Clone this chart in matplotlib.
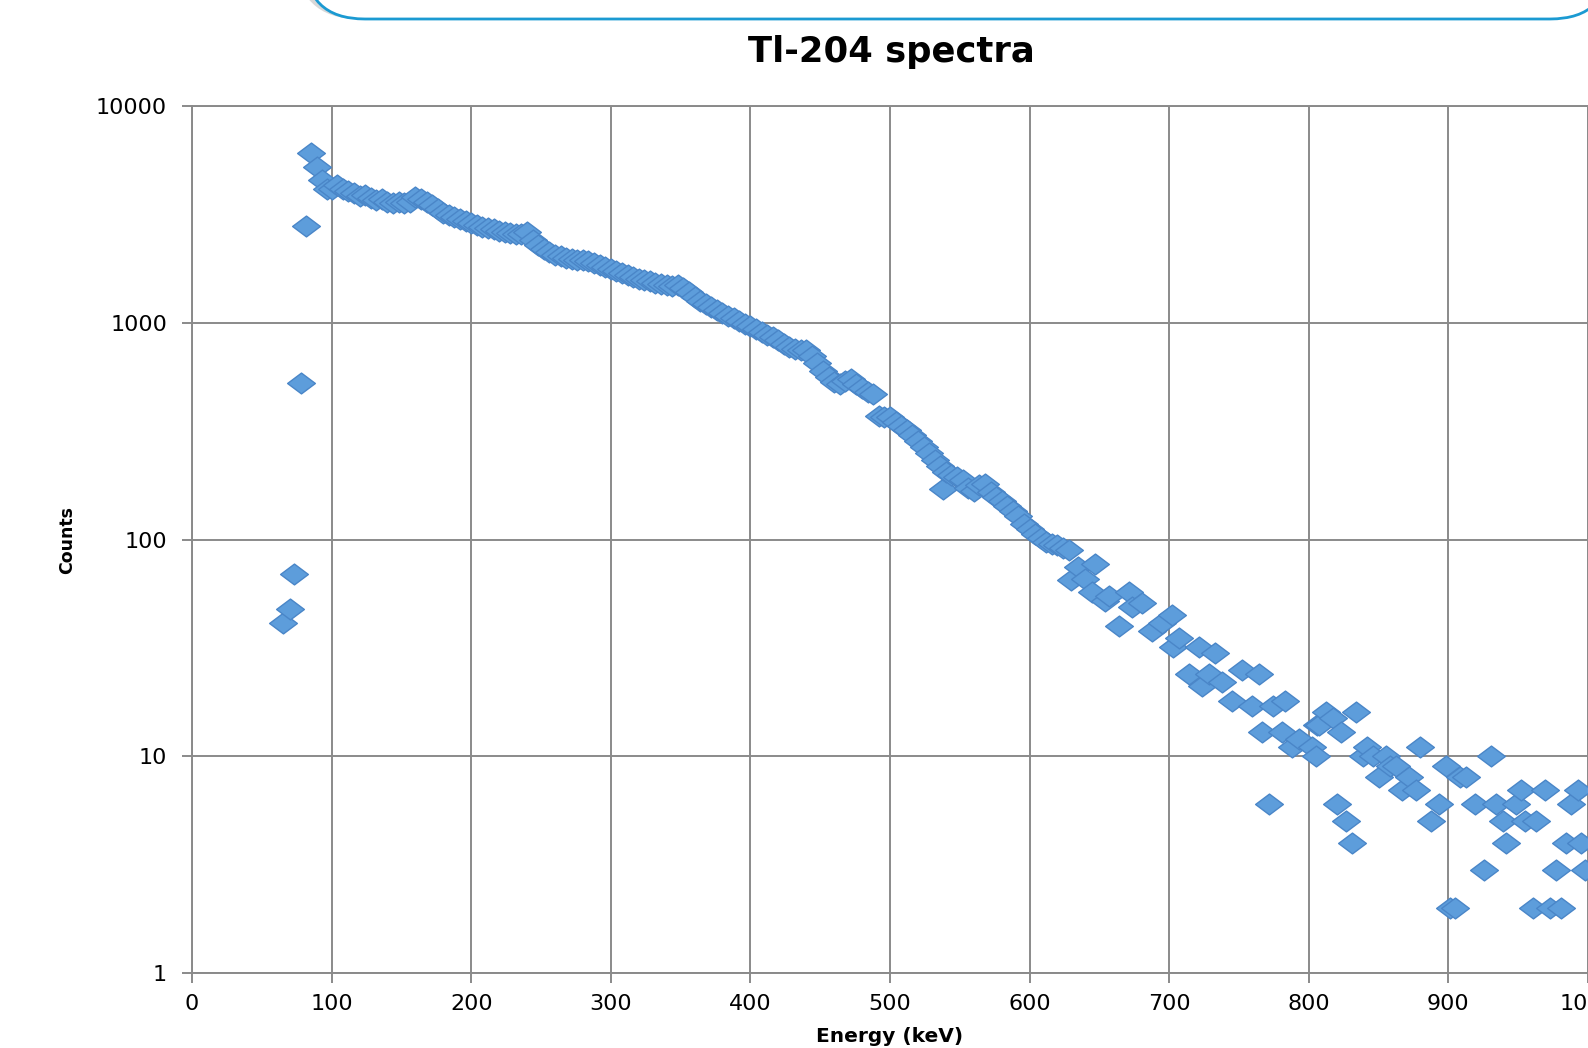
import matplotlib
matplotlib.use("Agg")
import matplotlib.pyplot as plt
from matplotlib.path import Path
from matplotlib.patches import FancyBboxPatch
from matplotlib.transforms import IdentityTransform
from matplotlib.ticker import FixedLocator, FixedFormatter, NullLocator

title = "Tl-204 spectra"
x_label = "Energy (keV)"
y_label = "Counts"
x_ticks = [0, 100, 200, 300, 400, 500, 600, 700, 800, 900, 1000]
y_ticks = [1, 10, 100, 1000, 10000]
y_tick_labels = ["1", "10", "100", "1000", "10000"]

energy = [
    65.5, 70, 73, 78, 82, 85.5, 89.5, 93, 96.5,
    100, 104, 108, 112, 116, 120, 124, 128, 132, 136, 140, 144, 148, 152, 156,
    160, 164, 168, 172, 176, 180, 184, 188, 192, 196, 200, 204, 208, 212, 216,
    220, 224, 228, 232, 236, 240, 244, 248, 252, 256, 260, 264, 268, 272, 276,
    280, 284, 288, 292, 296, 300, 304, 308, 312, 316, 320, 324, 328, 332, 336,
    340, 344, 348, 352, 356, 360, 364, 368, 372, 376, 380, 384, 388, 392, 396,
    400, 404, 408, 412, 416, 420, 424, 428, 432, 436, 440, 444, 448, 452, 456,
    460, 464, 468, 472, 476, 480, 484, 488, 492, 496, 500, 504, 508, 512, 516,
    520, 524, 528, 532, 536, 538, 540, 544, 548, 552, 556, 560, 564, 568, 572,
    576, 580, 584, 588, 592, 596, 600, 604, 608, 612, 616,
    619.5, 624, 628, 630, 635, 640, 644.6, 647, 654, 656.6, 663.7, 671, 673,
    680.5, 687.7, 695, 702, 703, 707, 714, 721, 723.6, 728.4, 733, 738, 745,
    752, 759.5, 764, 766.7, 771.5, 774, 781, 783, 788, 793, 802.6, 805, 806,
    807.5, 812, 817, 820.3, 823, 826.4, 831.2, 833.6, 838.6, 842, 846, 850.5,
    855, 858, 862.4, 867, 872, 876.8, 880, 887.5, 893.5, 898, 901, 905, 908,
    912.6, 918.7, 925.8, 930.6, 934, 939, 941, 948.6, 952, 955, 960.5, 963,
    969, 972.5, 977, 981, 984.4, 988, 993, 995, 997.5,
]
counts = [
    41, 48, 69, 530, 2800, 6050, 5250, 4550, 4150,
    4150, 4300, 4150, 4050, 3950, 3850, 3900, 3780, 3700, 3720, 3620, 3580, 3600, 3560, 3620,
    3800, 3720, 3620, 3500, 3360, 3220, 3150, 3080, 3000, 2950, 2900, 2820, 2780, 2730, 2700,
    2660, 2620, 2600, 2560, 2580, 2630, 2420, 2280, 2180, 2120, 2060, 2030, 2000, 1970, 1950,
    1940, 1920, 1890, 1850, 1800, 1770, 1740, 1700, 1660, 1630, 1590, 1570, 1550, 1530, 1510,
    1490, 1480, 1500, 1450, 1380, 1320, 1260, 1220, 1180, 1150, 1110, 1077, 1050, 1020, 990,
    968, 940, 910, 880, 855, 830, 800, 775, 757, 750, 745, 700, 650, 601, 560,
    531, 520, 540, 550, 520, 500, 480, 470, 372, 368, 366, 350, 335, 320, 305,
    285, 268, 250, 232, 218, 171, 205, 198, 194, 188, 172, 168, 178, 180, 165,
    157, 150, 142, 135, 128, 118, 112, 106, 102, 97, 95,
    94, 91, 89, 65, 75, 66, 57, 77, 52, 55, 40, 57, 49,
    51, 38, 41, 45, 32, 35, 24, 32, 21, 24, 30, 22, 18,
    25, 17, 24, 13, 6, 17, 13, 18, 11, 12, 11, 10, 14,
    14, 16, 15, 6, 13, 5, 4, 16, 10, 11, 10, 8,
    10, 9, 9, 7, 8, 7, 11, 5, 6, 9, 2, 2, 8,
    8, 6, 3, 10, 6, 5, 4, 6, 7, 5, 2, 5,
    7, 2, 3, 2, 4, 6, 7, 4, 3,
]

W, H, DPI = 1588, 1048, 100
fig = plt.figure(figsize=(W / DPI, H / DPI), dpi=DPI)
fig.patch.set_facecolor("white")

# slide header decoration (rounded box with shadow)
shadow = FancyBboxPatch((300, H - 15), 1310, 120,
                        boxstyle="round,pad=0,rounding_size=60",
                        transform=IdentityTransform(), facecolor="none",
                        edgecolor="#cfcfcf", lw=6, alpha=0.8, zorder=1)
fig.patches.append(shadow)
box = FancyBboxPatch((305, H - 19), 1305, 120,
                     boxstyle="round,pad=0,rounding_size=60",
                     transform=IdentityTransform(), facecolor="white",
                     edgecolor="#1b9ad2", lw=2, zorder=2)
fig.patches.append(box)

ax = fig.add_axes([192 / W, 1 - 973 / H, (W - 192) / W, (973 - 106) / H])
ax.set_yscale("log")
ax.set_xlim(0, 1000)
ax.set_ylim(1, 10000)

diamond = Path([(-1, 0), (0, 0.75), (1, 0), (0, -0.75), (-1, 0)],
               [Path.MOVETO, Path.LINETO, Path.LINETO, Path.LINETO, Path.CLOSEPOLY])
ax.plot(energy, counts, linestyle="none", marker=diamond, markersize=20,
        markerfacecolor="#5d9ddb", markeredgecolor="#4a86c8",
        markeredgewidth=1.0, zorder=3)

gcol = "#8a8a8a"
ax.grid(True, which="major", color=gcol, lw=1.4)
ax.set_axisbelow(True)
for s in ax.spines.values():
    s.set_color(gcol)
    s.set_linewidth(1.4)

ax.xaxis.set_major_locator(FixedLocator(x_ticks))
ax.yaxis.set_major_locator(FixedLocator(y_ticks))
ax.yaxis.set_major_formatter(FixedFormatter(y_tick_labels))
ax.yaxis.set_minor_locator(NullLocator())
ax.tick_params(axis="both", which="major", direction="out", length=7,
               width=1.4, color=gcol, labelsize=16, labelcolor="black")
ax.tick_params(axis="x", pad=8)
ax.tick_params(axis="y", pad=11)
for lab in ax.get_xticklabels() + ax.get_yticklabels():
    lab.set_fontfamily("DejaVu Sans")

ax.set_xlabel(x_label, fontsize=14.5, fontweight="bold", family="DejaVu Sans")
ax.xaxis.set_label_coords(0.5, -0.062)
ax.set_ylabel(y_label, fontsize=12.5, fontweight="bold", family="DejaVu Sans")
ax.yaxis.set_label_coords(-0.083, 0.5)

fig.text(891 / W, 1 - 52 / H, title, ha="center", va="center",
         fontsize=25.5, fontweight="bold", family="DejaVu Sans")

fig.savefig("out.png", dpi=DPI, facecolor="white")
